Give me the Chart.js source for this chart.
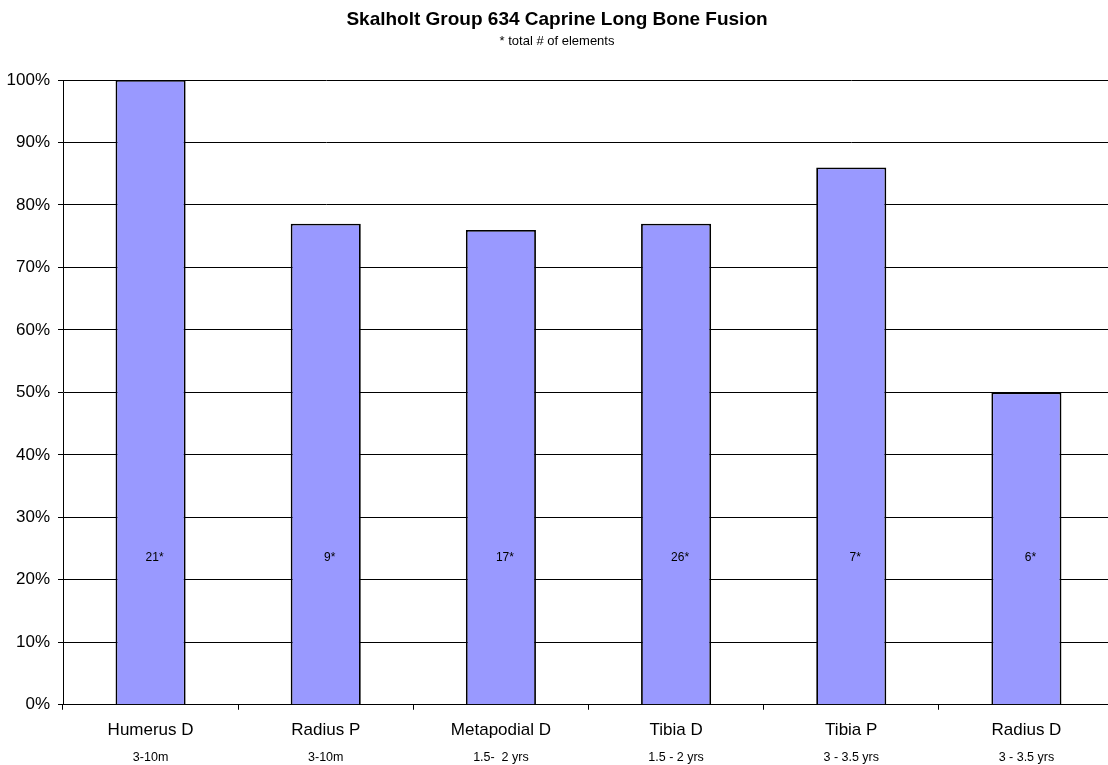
<!DOCTYPE html>
<html>
<head>
<meta charset="utf-8">
<title>Skalholt Group 634 Caprine Long Bone Fusion</title>
<script src="https://cdn.jsdelivr.net/npm/chart.js@4.4.0/dist/chart.umd.min.js"></script>
<style>
  html, body { margin: 0; padding: 0; background: #fff; overflow: hidden; }
  #wrap { width: 1114px; height: 765px; }
</style>
</head>
<body>
<div id="wrap"><canvas id="chart" width="1114" height="765"></canvas></div>
<script>
// Fusion data for caprine long bones, group 634
const elements = ['Humerus D', 'Radius P', 'Metapodial D', 'Tibia D', 'Tibia P', 'Radius D'];
const fusionAges = ['3-10m', '3-10m', '1.5-  2 yrs', '1.5 - 2 yrs', '3 - 3.5 yrs', '3 - 3.5 yrs'];
const percentFused = [100, 77, 76, 77, 86, 50];
const elementCounts = ['21*', '9*', '17*', '26*', '7*', '6*'];
const countLabelLevel = 23.5; // % level where the element counts are written

const FONT = "'Liberation Sans', Arial, Helvetica, sans-serif";

// Writes the element count inside each bar
const countLabels = {
  id: 'countLabels',
  afterDatasetsDraw(chart) {
    const ctx = chart.ctx;
    const meta = chart.getDatasetMeta(0);
    const y = chart.scales.y.getPixelForValue(countLabelLevel);
    ctx.save();
    ctx.font = '12px ' + FONT;
    ctx.fillStyle = '#000';
    ctx.textAlign = 'center';
    ctx.textBaseline = 'middle';
    meta.data.forEach((bar, i) => {
      ctx.fillText(elementCounts[i], bar.x + 4, y);
    });
    ctx.restore();
  }
};

new Chart(document.getElementById('chart'), {
  type: 'bar',
  data: {
    labels: elements,
    datasets: [{
      data: percentFused,
      backgroundColor: '#9999FF',
      borderColor: '#000',
      borderWidth: 1.8,
      categoryPercentage: 1,
      barPercentage: 0.4
    }]
  },
  options: {
    responsive: false,
    animation: false,
    devicePixelRatio: 1,
    layout: { padding: 0 },
    plugins: {
      legend: { display: false },
      tooltip: { enabled: false },
      title: {
        display: true,
        text: 'Skalholt Group 634 Caprine Long Bone Fusion',
        color: '#000',
        font: { family: FONT, size: 19, weight: 'bold', lineHeight: 1.2 },
        padding: { top: 8.6, bottom: 0 }
      },
      subtitle: {
        display: true,
        text: '* total # of elements',
        color: '#000',
        font: { family: FONT, size: 13, lineHeight: 1.2 },
        padding: { top: 1.8, bottom: 31.2 }
      }
    },
    scales: {
      x: {
        type: 'category',
        position: 'bottom',
        offset: true,
        grid: {
          display: true,
          drawOnChartArea: false,
          offset: true,
          tickLength: 5,
          tickColor: '#000',
          lineWidth: 1
        },
        border: { display: true, color: '#000', width: 1 },
        ticks: {
          color: '#000',
          font: { family: FONT, size: 17, lineHeight: 1.15 },
          padding: 10.5,
          maxRotation: 0,
          autoSkip: false
        }
      },
      x2: {
        type: 'category',
        position: 'bottom',
        labels: fusionAges,
        offset: true,
        grid: { display: false, drawTicks: false },
        border: { display: false },
        ticks: {
          color: '#000',
          font: { family: FONT, size: 12.5, lineHeight: 1 },
          padding: 1.1,
          maxRotation: 0,
          autoSkip: false
        }
      },
      y: {
        min: 0,
        max: 100,
        grid: {
          color: '#000',
          lineWidth: 1,
          tickLength: 5,
          tickColor: '#000'
        },
        border: { display: true, color: '#000', width: 1 },
        ticks: {
          stepSize: 10,
          color: '#000',
          padding: 8,
          font: { family: FONT, size: 17 },
          callback: v => v + '%'
        },
        afterFit(scale) { scale.width = 63; }
      }
    }
  },
  plugins: [countLabels]
});
</script>
</body>
</html>
